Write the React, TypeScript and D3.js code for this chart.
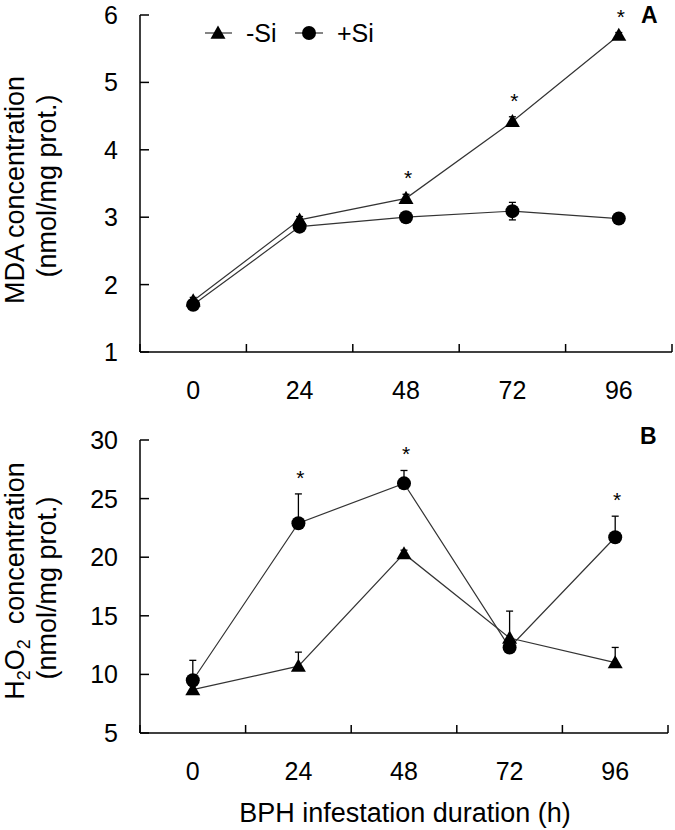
import React from "react";
import * as d3 from "d3";

const categories = ["0", "24", "48", "72", "96"];

const mdaMinusSi = [1.76, 2.96, 3.28, 4.42, 5.7];
const mdaMinusSiErr = [0.05, 0.05, 0.06, 0.07, 0.04];
const mdaPlusSi = [1.7, 2.86, 3.0, 3.09, 2.98];
const mdaPlusSiErr = [0.03, 0.04, 0.03, 0.13, 0.03];
const mdaStars = [false, false, true, true, true];
const mdaTicks = [1, 2, 3, 4, 5, 6];

const h2o2MinusSi = [8.7, 10.7, 20.3, 13.1, 11.0];
const h2o2MinusSiErr = [0.3, 1.2, 0.3, 2.3, 1.3];
const h2o2PlusSi = [9.5, 22.9, 26.3, 12.3, 21.7];
const h2o2PlusSiErr = [1.7, 2.5, 1.1, 0.3, 1.8];
const h2o2Stars = [false, true, true, false, true];
const h2o2Ticks = [5, 10, 15, 20, 25, 30];

const FONT = "'Liberation Sans', Arial, Helvetica, sans-serif";
const LINE = "#333";
const TICK_FS = 25;
const TITLE_FS = 27;

type PanelProps = {
  xRange: [number, number];
  yDomain: [number, number];
  yRange: [number, number];
  ticks: number[];
  minus: number[];
  minusErr: number[];
  plus: number[];
  plusErr: number[];
  stars: boolean[];
  twoSided: boolean;
  letter: string;
  letterPos: [number, number];
};

function Triangle({ x, y, s = 7.5 }: { x: number; y: number; s?: number }) {
  const p = `${x},${y - s} ${x + s},${y + s * 0.75} ${x - s},${y + s * 0.75}`;
  return <polygon points={p} fill="#000" />;
}

function Panel(props: PanelProps) {
  const x = d3.scaleBand<string>().domain(categories).range(props.xRange).padding(0);
  const y = d3.scaleLinear().domain(props.yDomain).range(props.yRange);
  const cx = (c: string) => (x(c) as number) + x.bandwidth() / 2;
  const [x0, x1] = props.xRange;
  const yb = props.yRange[0];
  const yt = props.yRange[1];
  const line = d3
    .line<number>()
    .x((_, i) => cx(categories[i]))
    .y((d) => y(d));
  const boundaries = [...categories.map((c) => x(c) as number), x1];

  const errBars = (vals: number[], errs: number[], twoSided: boolean) =>
    vals.map((v, i) => {
      const xc = cx(categories[i]);
      const top = y(v + errs[i]);
      const bot = twoSided ? y(v - errs[i]) : y(v);
      return (
        <g key={i} stroke="#000" strokeWidth={1.3}>
          <line x1={xc} x2={xc} y1={top} y2={bot} />
          <line x1={xc - 3.5} x2={xc + 3.5} y1={top} y2={top} />
          {twoSided && <line x1={xc - 3.5} x2={xc + 3.5} y1={bot} y2={bot} />}
        </g>
      );
    });

  return (
    <g>
      <line x1={x0} x2={x0} y1={yt} y2={yb} stroke="#000" strokeWidth={1.5} />
      <line x1={x0} x2={x1} y1={yb} y2={yb} stroke="#000" strokeWidth={1.5} />
      {props.ticks.map((t) => (
        <g key={t}>
          <line x1={x0} x2={x0 + 9} y1={y(t)} y2={y(t)} stroke="#000" strokeWidth={1.5} />
          <text
            x={x0 - 22}
            y={y(t)}
            dy="0.36em"
            textAnchor="end"
            fontSize={TICK_FS}
            fontFamily={FONT}
          >
            {t}
          </text>
        </g>
      ))}
      {boundaries.map((b, i) => (
        <line key={i} x1={b} x2={b} y1={yb} y2={yb - 8} stroke="#000" strokeWidth={1.5} />
      ))}
      {categories.map((c) => (
        <text
          key={c}
          x={cx(c)}
          y={yb + 38}
          dy="0.36em"
          textAnchor="middle"
          fontSize={TICK_FS}
          fontFamily={FONT}
        >
          {c}
        </text>
      ))}
      {errBars(props.minus, props.minusErr, props.twoSided)}
      {errBars(props.plus, props.plusErr, props.twoSided)}
      <path d={line(props.minus) as string} fill="none" stroke={LINE} strokeWidth={1.2} />
      <path d={line(props.plus) as string} fill="none" stroke={LINE} strokeWidth={1.2} />
      {props.plus.map((v, i) => (
        <circle key={i} cx={cx(categories[i])} cy={y(v)} r={7} fill="#000" />
      ))}
      {props.minus.map((v, i) => (
        <Triangle key={i} x={cx(categories[i])} y={y(v)} />
      ))}
      {props.stars.map((s, i) => {
        if (!s) return null;
        const topV = Math.max(
          props.minus[i] + props.minusErr[i],
          props.plus[i] + props.plusErr[i]
        );
        const ys = y(topV) - 21;
        return (
          <text
            key={i}
            x={cx(categories[i]) + 2}
            y={ys + 12}
            textAnchor="middle"
            fontSize={21}
            fontFamily={FONT}
          >
            *
          </text>
        );
      })}
      <text
        x={props.letterPos[0]}
        y={props.letterPos[1]}
        fontSize={23}
        fontWeight="bold"
        fontFamily={FONT}
      >
        {props.letter}
      </text>
    </g>
  );
}

export default function App() {
  return (
    <svg
      width={675}
      height={830}
      style={{ position: "absolute", left: 0, top: 0, background: "#fff" }}
    >
      <rect width={675} height={830} fill="#fff" />
      <Panel
        xRange={[140, 672]}
        yDomain={[1, 6]}
        yRange={[352, 15]}
        ticks={mdaTicks}
        minus={mdaMinusSi}
        minusErr={mdaMinusSiErr}
        plus={mdaPlusSi}
        plusErr={mdaPlusSiErr}
        stars={mdaStars}
        twoSided={true}
        letter="A"
        letterPos={[641, 23]}
      />
      <Panel
        xRange={[140, 668]}
        yDomain={[5, 30]}
        yRange={[733, 440]}
        ticks={h2o2Ticks}
        minus={h2o2MinusSi}
        minusErr={h2o2MinusSiErr}
        plus={h2o2PlusSi}
        plusErr={h2o2PlusSiErr}
        stars={h2o2Stars}
        twoSided={false}
        letter="B"
        letterPos={[640, 444]}
      />
      <g fontFamily={FONT} fontSize={TICK_FS}>
        <line x1={205} x2={232} y1={33} y2={33} stroke={LINE} strokeWidth={1.2} />
        <Triangle x={218} y={33} />
        <text x={246} y={33} dy="0.36em">-Si</text>
        <line x1={295} x2={323} y1={33} y2={33} stroke={LINE} strokeWidth={1.2} />
        <circle cx={309} cy={33} r={7} fill="#000" />
        <text x={337} y={33} dy="0.36em">+Si</text>
      </g>
      <g fontFamily={FONT} fontSize={TITLE_FS} textAnchor="middle">
        <text transform="translate(14,190) rotate(-90)" dy="0.36em">MDA concentration</text>
        <text transform="translate(46,186) rotate(-90)" dy="0.36em">(nmol/mg prot.)</text>
        <text transform="translate(14,581) rotate(-90)" dy="0.36em">
          <tspan>H</tspan>
          <tspan fontSize={18} dy={6}>2</tspan>
          <tspan dy={-6}>O</tspan>
          <tspan fontSize={18} dy={6}>2</tspan>
          <tspan dy={-6}>{"\u00a0\u00a0concentration"}</tspan>
        </text>
        <text transform="translate(46,588) rotate(-90)" dy="0.36em">(nmol/mg prot.)</text>
        <text x={405} y={822}>BPH infestation duration (h)</text>
      </g>
    </svg>
  );
}
